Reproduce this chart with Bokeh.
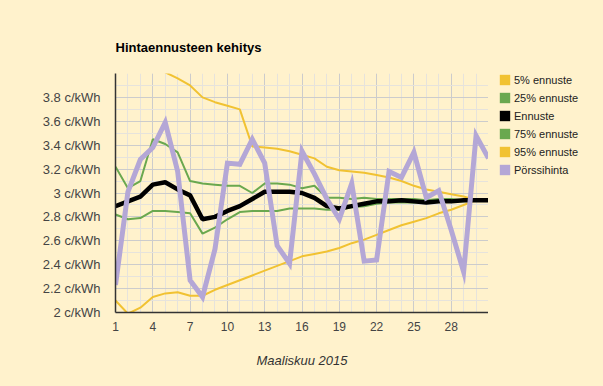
from bokeh.plotting import figure
from bokeh.layouts import row
from bokeh.models import Range1d, FixedTicker, Legend, LegendItem
from bokeh.embed import file_html
from bokeh.resources import INLINE

days = list(range(1, 32))
p5 = [2.10, 1.99, 2.04, 2.13, 2.16, 2.17, 2.14, 2.14, 2.19, 2.23, 2.27, 2.31, 2.35, 2.39, 2.43, 2.47,
      2.49, 2.51, 2.54, 2.58, 2.61, 2.65, 2.69, 2.73, 2.76, 2.79, 2.83, 2.86, 2.90, 2.94, 2.94]
p25 = [2.82, 2.78, 2.79, 2.85, 2.85, 2.84, 2.83, 2.66, 2.71, 2.78, 2.84, 2.85, 2.85, 2.85, 2.87, 2.87,
       2.87, 2.86, 2.86, 2.88, 2.89, 2.91, 2.92, 2.92, 2.92, 2.92, 2.93, 2.93, 2.93, 2.94, 2.94]
ennuste = [2.89, 2.93, 2.97, 3.07, 3.09, 3.03, 2.98, 2.78, 2.80, 2.85, 2.89, 2.95, 3.01, 3.01, 3.01, 3.00,
           2.96, 2.89, 2.87, 2.89, 2.91, 2.93, 2.93, 2.94, 2.93, 2.92, 2.93, 2.93, 2.94, 2.94, 2.94]
p75 = [3.22, 3.04, 3.10, 3.45, 3.41, 3.34, 3.10, 3.08, 3.07, 3.06, 3.06, 3.00, 3.08, 3.08, 3.07, 3.04,
       3.06, 2.96, 2.96, 2.95, 2.96, 2.95, 2.95, 2.95, 2.95, 2.94, 2.95, 2.95, 2.94, 2.95, 2.95]
p95 = [4.35, 4.27, 4.19, 4.10, 4.01, 3.96, 3.90, 3.80, 3.76, 3.73, 3.70, 3.39, 3.38, 3.37, 3.35, 3.32,
       3.29, 3.22, 3.19, 3.18, 3.17, 3.15, 3.13, 3.10, 3.06, 3.03, 3.01, 2.99, 2.97, 2.94, 2.94]
porssi = [2.23, 3.01, 3.28, 3.38, 3.59, 3.18, 2.27, 2.13, 2.53, 3.25, 3.24, 3.45, 3.25, 2.56, 2.41, 3.35,
          3.16, 2.95, 2.78, 3.08, 2.43, 2.44, 3.18, 3.13, 3.34, 2.96, 3.02, 2.69, 2.34, 3.48, 3.29]

x_ticks = [1, 4, 7, 10, 13, 16, 19, 22, 25, 28]
x_minor = list(range(1, 32))
y_ticks = [2.0, 2.2, 2.4, 2.6, 2.8, 3.0, 3.2, 3.4, 3.6, 3.8]
y_labels = ["2 c/kWh", "2.2 c/kWh", "2.4 c/kWh", "2.6 c/kWh", "2.8 c/kWh", "3 c/kWh",
            "3.2 c/kWh", "3.4 c/kWh", "3.6 c/kWh", "3.8 c/kWh"]
y_minor = [2.0, 2.1, 2.2, 2.3, 2.4, 2.5, 2.6, 2.7, 2.8, 2.9, 3.0, 3.1, 3.2, 3.3, 3.4, 3.5, 3.6, 3.7,
           3.8, 3.9, 4.0]

title = "Hintaennusteen kehitys"
x_title = "Maaliskuu 2015"
names = ["5% ennuste", "25% ennuste", "Ennuste", "75% ennuste", "95% ennuste", "Pörssihinta"]
series = [p5, p25, ennuste, p75, p95, porssi]

YEL = "#f1c232"
GRN = "#6aa84f"
BLK = "#000000"
PUR = "#b4a7d6"
BG = "#fff2cc"
FONT = "Liberation Sans"

p = figure(width=488, height=386, output_backend="svg", toolbar_location=None,
           x_range=Range1d(1, 31), y_range=Range1d(2, 4),
           min_border_left=115, min_border_right=0, min_border_top=73, min_border_bottom=74,
           background_fill_color=BG, border_fill_color=BG)
p.outline_line_color = None

p.title.text = title
p.title.text_font = FONT
p.title.text_font_size = "13px"
p.title.text_font_style = "bold"
p.title.text_color = "#000000"
p.title.align = "left"
p.title.standoff = 38

# lines
p.line(days, p95, line_color=YEL, line_width=2)
p.line(days, p5, line_color=YEL, line_width=2)
p.line(days, p75, line_color=GRN, line_width=2)
p.line(days, p25, line_color=GRN, line_width=2)
p.line(days, ennuste, line_color=BLK, line_width=4.5)
p.line(days, porssi, line_color=PUR, line_width=5, line_join="miter")

# axes
p.xaxis.ticker = FixedTicker(ticks=x_ticks, minor_ticks=x_minor)
p.yaxis.ticker = FixedTicker(ticks=y_ticks, minor_ticks=y_minor)
p.yaxis.major_label_overrides = dict(zip(y_ticks, y_labels))

for ax in (p.xaxis, p.yaxis):
    ax.axis_line_color = "#333333"
    ax.axis_line_width = 1.5
    ax.major_tick_line_color = None
    ax.minor_tick_line_color = None
    ax.major_tick_out = 0
    ax.major_tick_in = 0
    ax.minor_tick_out = 0
    ax.major_label_text_font = FONT
    ax.major_label_text_color = "#444444"

p.yaxis.major_label_text_font_size = "13px"
p.yaxis.major_label_standoff = 15
p.xaxis.major_label_text_font_size = "12px"
p.xaxis.major_label_standoff = 9

p.xaxis.axis_label = x_title
p.xaxis.axis_label_text_font = FONT
p.xaxis.axis_label_text_font_size = "13px"
p.xaxis.axis_label_text_font_style = "italic"
p.xaxis.axis_label_text_color = "#333333"
p.xaxis.axis_label_standoff = 19

for g in (p.xgrid, p.ygrid):
    g.grid_line_color = "#cccccc"
    g.grid_line_width = 1
    g.minor_grid_line_color = "#e6e3dc"
    g.minor_grid_line_width = 1

# legend panel (separate figure to the right)
lf = figure(width=115, height=386, output_backend="svg", toolbar_location=None,
            x_range=Range1d(0, 1), y_range=Range1d(0, 1),
            min_border_left=0, min_border_right=0, min_border_top=0, min_border_bottom=0,
            background_fill_color=BG, border_fill_color=BG)
lf.outline_line_color = None
lf.axis.visible = False
lf.grid.visible = False

colors = [YEL, GRN, BLK, GRN, YEL, PUR]
items = []
for name, c, s in zip(names, colors, series):
    # zero-size swatch carrier (first data point, degenerate, outside this panel's range)
    r = lf.quad(left=days[:1], right=days[:1], top=s[:1], bottom=s[:1],
                fill_color=c, line_color=None)
    items.append(LegendItem(label=name, renderers=[r]))

legend = Legend(items=items, location=(10, 136), margin=0, padding=0, spacing=5,
                glyph_width=13, glyph_height=13, label_height=13, label_standoff=3,
                label_text_font=FONT, label_text_font_size="11px", label_text_color="#222222",
                background_fill_alpha=0, border_line_color=None)
lf.add_layout(legend, "center")

layout = row(p, lf, spacing=0)

html = file_html(layout, INLINE)
html = html.replace("</head>", "<style>body{background:#fff2cc;}</style></head>", 1)
open("out.html", "w").write(html)
